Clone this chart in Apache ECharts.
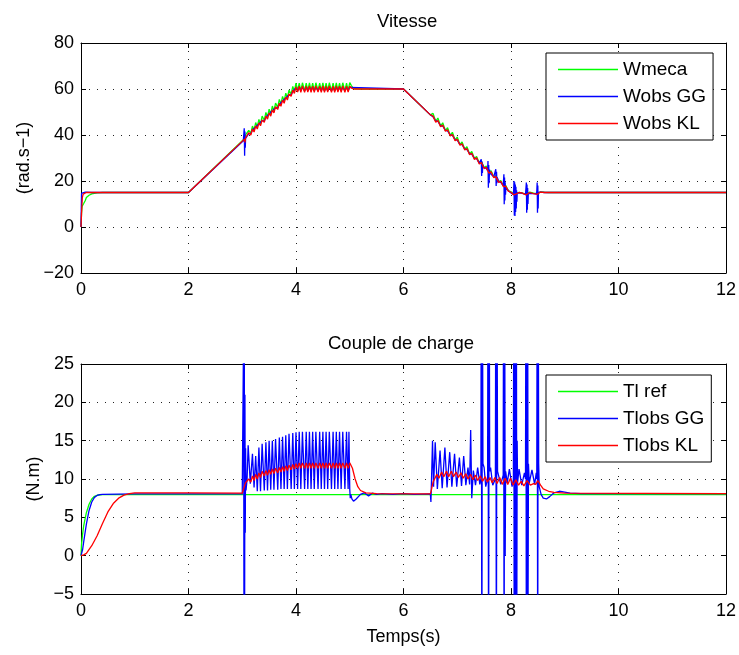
<!DOCTYPE html>
<html><head><meta charset="utf-8">
<script src="https://cdn.jsdelivr.net/npm/echarts@6/dist/echarts.min.js"></script>
<style>html,body{margin:0;padding:0;background:#fff}#c{width:739px;height:655px}</style>
</head><body><div id="c"></div>
<script>
const titles = ['Vitesse', 'Couple de charge'];
const xName = 'Temps(s)';
const yNames = ['(rad.s\u22121)', '(N.m)'];
const topNames = ['Wmeca', 'Wobs GG', 'Wobs KL'];
const botNames = ['Tl ref', 'Tlobs GG', 'Tlobs KL'];
const xRange = [0, 12, 2];
const topYRange = [-20, 80, 20];
const botYRange = [-5, 25, 5];

const wmeca = [[0,0],[0.01,6],[0.02,9],[0.05,10.2],[0.08,11.5],[0.1,12.8],[0.15,13.8],[0.2,14.4],[0.3,14.8],[0.4,15],[2,15],[3.04,38.4],
[3.06,40.0],[3.09,39.3],[3.12,42.0],[3.16,40.8],[3.19,43.9],[3.22,42.1],[3.25,45.4],[3.28,43.5],[3.31,46.8],[3.34,44.8],[3.37,48.2],[3.41,46.4],[3.44,49.8],[3.47,47.8],[3.50,51.2],[3.53,49.1],[3.56,52.6],[3.59,50.5],[3.62,53.9],[3.66,52.0],[3.69,55.5],[3.72,53.4],[3.75,56.8],[3.78,54.7],[3.81,58.2],[3.84,56.1],[3.87,59.5],[3.91,57.7],[3.94,61.1],[3.97,59.0],[4.00,62.5],
[4.03,59.3],[4.06,62.6],[4.09,59.2],[4.12,62.7],[4.16,59.2],[4.19,62.6],[4.22,59.3],[4.25,62.7],[4.28,59.2],[4.31,62.6],[4.34,59.2],[4.37,62.7],[4.41,59.3],[4.44,62.6],[4.47,59.2],[4.50,62.7],[4.53,59.2],[4.56,62.6],[4.59,59.3],[4.62,62.7],[4.66,59.2],[4.69,62.6],[4.72,59.2],[4.75,62.7],[4.78,59.3],[4.81,62.6],[4.84,59.2],[4.87,62.7],[4.91,59.2],[4.94,62.6],[4.97,59.3],[5.00,62.8],[5.03,61.5],[5.06,60.5],[5.1,60.1],[5.2,60],[6,60],
[6.5,48.75],[6.55,49.4],[6.6,45.9],[6.64,47.4],[6.69,43.9],[6.73,45.3],[6.78,41.9],[6.82,43.2],[6.87,39.8],[6.91,41.2],[6.96,37.8],[7.00,39.1],[7.05,35.8],[7.09,37.0],[7.14,33.8],[7.18,34.9],[7.23,31.8],[7.27,32.8],[7.32,29.8],[7.36,30.7],[7.41,27.8],[7.45,28.6],[7.50,25.8],[7.54,26.5],[7.59,23.8],[7.63,24.4],[7.68,21.7],[7.72,22.3],[7.77,19.7],[7.81,20.2],[7.86,17.7],[7.90,18.1],[7.95,15.8],[8.0,15.3],[8.05,14.3],[8.1,14.6],[8.15,15.1],[8.2,14.8],[8.28,14.3],[8.35,15.2],[8.42,14.7],[8.49,14.5],[8.55,15.3],[8.62,15.1],[8.7,15],[12,15]];

const wobsGG = [[0,0],[0.01,14.6],[0.03,15.4],[0.08,15.2],[0.2,15],[2,15],[3.02,37.5],[3.03,38.0],[3.037,42.9],[3.044,31.0],[3.05,41.5],[3.056,34.5],[3.062,38.5],
[3.07,38.3],[3.09,39.2],[3.12,40.6],[3.16,40.6],[3.19,42.2],[3.22,41.8],[3.25,43.5],[3.28,43.1],[3.31,44.9],[3.34,44.6],[3.37,46.2],[3.41,46.1],[3.44,47.8],[3.47,47.5],[3.50,49.2],[3.53,48.8],[3.56,50.5],[3.59,50.2],[3.62,51.9],[3.66,51.8],[3.69,53.4],[3.72,53.1],[3.75,54.8],[3.78,54.5],[3.81,56.1],[3.84,55.8],[3.87,57.5],[3.91,57.4],[3.94,59.0],[3.97,58.8],[4.00,60.5],
[4.03,59.3],[4.06,60.7],[4.09,59.3],[4.12,60.7],[4.16,59.3],[4.19,60.7],[4.22,59.3],[4.25,60.7],[4.28,59.3],[4.31,60.7],[4.34,59.3],[4.37,60.7],[4.41,59.3],[4.44,60.7],[4.47,59.3],[4.50,60.7],[4.53,59.3],[4.56,60.7],[4.59,59.3],[4.62,60.7],[4.66,59.3],[4.69,60.7],[4.72,59.3],[4.75,60.7],[4.78,59.3],[4.81,60.7],[4.84,59.3],[4.87,60.7],[4.91,59.3],[4.94,60.7],[4.97,59.3],[5.0,60.7],[5.03,60.1],[6,60],
[6.5,48.75],[6.55,47.9],[6.6,46.1],[6.64,45.9],[6.69,44.1],[6.73,43.9],[6.78,42.0],[6.82,41.8],[6.87,40.0],[6.91,39.8],[6.96,38.0],[7.00,37.8],[7.05,35.9],[7.09,35.8],[7.14,33.9],[7.18,33.7],[7.23,31.9],[7.27,31.7],[7.32,29.8],[7.36,29.7],[7.41,27.8],
[7.44,27.5],[7.447,29.4],[7.454,22.2],[7.461,28.5],[7.468,23.5],[7.475,27.0],[7.485,26.5],[7.50,25.8],[7.54,25.5],
[7.565,24.5],[7.572,28.7],[7.579,17.1],[7.586,27],[7.593,19],[7.6,25],[7.61,23.4],[7.63,23.4],[7.68,21.8],
[7.71,21.6],[7.717,25.1],[7.724,17.8],[7.731,24],[7.738,19],[7.745,21.5],[7.77,19.8],[7.81,19.4],[7.855,18.0],
[7.862,18.5],[7.868,22.9],[7.874,9.9],[7.88,21.5],[7.886,11.5],[7.892,19.5],[7.898,14],[7.905,17.3],[7.95,15.8],[8.0,14.8],[8.04,14.2],
[8.05,16],[8.056,20],[8.062,5],[8.068,19.5],[8.074,4.8],[8.08,18.5],[8.086,6.5],[8.092,17.5],[8.098,8],[8.104,16],[8.11,11],[8.116,14.8],[8.15,15.0],[8.2,14.7],[8.27,14.2],
[8.28,15],[8.286,19.3],[8.292,6.2],[8.298,18.5],[8.304,7.5],[8.31,17],[8.316,10],[8.322,14.5],[8.35,15.0],[8.42,14.5],[8.475,14.4],
[8.481,16],[8.487,19.3],[8.493,6.2],[8.499,18],[8.505,8],[8.511,15],[8.518,14.8],[8.55,15.2],[8.62,15.0],[8.7,15],[12,15]];

const wobsKL = [[0,0],[0.01,6],[0.025,12.8],[0.04,14.3],[0.06,14.8],[0.1,15],[2,15],[3.04,38.2],[3.05,36.8],
[3.06,38.6],[3.09,38.9],[3.12,41.0],[3.16,40.0],[3.19,42.6],[3.22,41.3],[3.25,43.9],[3.28,42.6],[3.31,45.3],[3.34,44.0],[3.37,46.6],[3.41,45.5],[3.44,48.2],[3.47,46.9],[3.50,49.6],[3.53,48.2],[3.56,50.9],[3.59,49.6],[3.62,52.3],[3.66,51.1],[3.69,53.8],[3.72,52.5],[3.75,55.2],[3.78,53.8],[3.81,56.5],[3.84,55.2],[3.87,57.9],[3.91,56.8],[3.94,59.5],[3.97,58.1],[4.00,60.9],
[4.03,58.7],[4.06,61.2],[4.09,58.6],[4.12,61.3],[4.16,58.6],[4.19,61.2],[4.22,58.7],[4.25,61.3],[4.28,58.6],[4.31,61.2],[4.34,58.6],[4.37,61.3],[4.41,58.7],[4.44,61.2],[4.47,58.6],[4.50,61.3],[4.53,58.6],[4.56,61.2],[4.59,58.7],[4.62,61.3],[4.66,58.6],[4.69,61.2],[4.72,58.6],[4.75,61.3],[4.78,58.7],[4.81,61.2],[4.84,58.6],[4.87,61.3],[4.91,58.6],[4.94,61.2],[4.97,58.7],[5.00,61.2],[5.04,60.3],[5.08,60.0],[6,60],
[6.5,48.75],[6.55,48.2],[6.6,45.6],[6.64,46.3],[6.69,43.6],[6.73,44.3],[6.78,41.6],[6.82,42.3],[6.87,39.6],[6.91,40.2],[6.96,37.5],[7.00,38.2],[7.05,35.5],[7.09,36.2],[7.14,33.5],[7.18,34.1],[7.23,31.4],[7.27,32.1],[7.32,29.4],[7.36,30.1],[7.41,27.4],[7.45,28.0],[7.50,25.4],[7.54,26.0],[7.59,23.4],[7.63,24.0],[7.68,21.4],[7.72,21.9],[7.77,19.4],[7.81,19.9],[7.86,17.5],[7.90,17.8],[7.95,15.6],[8.0,15.1],[8.05,14.0],[8.1,14.4],[8.15,15.0],[8.2,14.8],[8.28,14.0],[8.35,15.0],[8.42,14.5],[8.49,14.2],[8.55,15.2],[8.62,15.0],[8.7,15],[12,15]];

const tlRef = [[0,0],[0.01,1.5],[0.03,2.8],[0.05,3.9],[0.07,4.6],[0.1,5.6],[0.15,6.7],[0.2,7.4],[0.25,7.75],[0.3,7.88],[0.4,7.95],[12,7.95]];

const tlobsGG = [[0,0],[0.03,0.8],[0.05,1.8],[0.08,3.2],[0.1,4.1],[0.15,5.9],[0.2,7.0],[0.25,7.6],[0.3,7.85],[0.35,7.95],[0.4,8.0],[1,8.05],[3.0,8.05],
[3.02,8.1],[3.026,30],[3.032,-10],[3.038,30],[3.044,-10],[3.05,21],[3.056,3],[3.062,14],[3.07,8.5],[3.09,10],
[3.11,14.4],[3.15,9.4],[3.19,13.3],[3.22,8.9],[3.25,13.0],[3.28,8.4],[3.31,14.1],[3.34,8.4],[3.37,14.6],[3.41,8.5],[3.44,14.8],[3.47,8.5],[3.50,15.0],[3.53,8.6],[3.56,15.0],[3.59,8.6],[3.62,15.2],[3.66,8.6],[3.69,15.4],[3.72,8.7],[3.75,15.5],[3.78,8.7],[3.81,15.7],[3.84,8.7],[3.87,15.9],[3.91,8.7],[3.94,16.0],[3.97,8.7],[4.00,16.1],
[4.03,8.7],[4.06,16.15],[4.09,8.7],[4.12,16.15],[4.16,8.7],[4.19,16.15],[4.22,8.7],[4.25,16.15],[4.28,8.7],[4.31,16.15],[4.34,8.7],[4.37,16.15],[4.41,8.7],[4.44,16.15],[4.47,8.7],[4.50,16.15],[4.53,8.7],[4.56,16.15],[4.59,8.7],[4.62,16.15],[4.66,8.7],[4.69,16.15],[4.72,8.7],[4.75,16.15],[4.78,8.7],[4.81,16.15],[4.84,8.7],[4.87,16.15],[4.91,8.7],[4.94,16.15],[4.97,8.7],[4.985,16.15],
[5.0,8.7],[5.01,7.5],[5.02,8.0],[5.04,7.4],[5.07,7.1],[5.12,7.4],[5.2,8.0],[5.27,8.2],[5.35,7.8],[5.42,8.15],[5.5,8.0],[5.6,8.1],[5.8,8.0],[6.0,8.1],[6.2,8.0],[6.5,8.05],
[6.51,7.0],[6.52,9.5],[6.54,15.0],[6.56,9.0],[6.59,14.8],[6.63,8.7],[6.68,13.7],[6.72,8.8],[6.77,14.1],[6.81,8.9],[6.86,13.5],[6.90,9.0],[6.95,13.3],[6.99,9.0],[7.04,12.8],[7.08,9.1],[7.12,13.0],[7.16,9.2],[7.20,11.5],[7.23,9.3],[7.25,16.4],[7.27,7.5],[7.30,11.1],[7.34,9.2],[7.38,11.5],[7.42,9.3],
[7.44,10],[7.447,40],[7.458,-20],[7.468,40],[7.478,12],[7.5,11.5],[7.53,9.0],
[7.565,10],[7.572,40],[7.583,-20],[7.594,40],[7.604,11],[7.62,11.5],[7.66,9.2],
[7.71,10],[7.717,40],[7.728,-20],[7.739,40],[7.75,11],[7.77,11.2],[7.81,9.3],
[7.855,10.5],[7.862,40],[7.872,-20],[7.882,40],[7.892,0],[7.9,11],[7.93,9.5],[7.97,11.3],[8.02,9.0],
[8.045,10],[8.052,40],[8.06,-20],[8.068,40],[8.076,-20],[8.084,40],[8.092,-20],[8.1,40],[8.108,-10],[8.115,15],[8.122,9.5],[8.15,11.3],[8.2,9.2],[8.25,10.8],
[8.27,10],[8.278,40],[8.286,-20],[8.294,40],[8.302,-20],[8.31,40],[8.318,-5],[8.325,12],[8.34,9.5],[8.39,11.2],[8.44,9.3],[8.47,10.8],
[8.48,10],[8.487,40],[8.497,-20],[8.507,40],[8.515,12],[8.525,9.0],[8.56,8.0],[8.6,7.5],[8.66,7.4],[8.72,7.7],[8.8,8.2],[8.9,8.4],[9.0,8.3],[9.1,8.15],[9.3,8.1],[12,8.1]];

const tlobsKL = [[0,0],[0.05,0.1],[0.1,0.3],[0.2,1.3],[0.3,2.6],[0.4,4.2],[0.5,5.7],[0.6,6.8],[0.7,7.5],[0.8,7.9],[0.9,8.1],[1.0,8.2],[2.0,8.2],[3.0,8.15],[3.03,8.3],
[3.06,9.5],[3.09,9.3],[3.12,10.0],[3.16,9.6],[3.19,10.4],[3.22,9.8],[3.25,10.6],[3.28,10.0],[3.31,10.8],[3.34,10.2],[3.37,11.0],[3.41,10.4],[3.44,11.1],[3.47,10.5],[3.50,11.2],[3.53,10.6],[3.56,11.3],[3.59,10.7],[3.62,11.4],[3.66,10.8],[3.69,11.5],[3.72,10.9],[3.75,11.6],[3.78,11.0],[3.81,11.7],[3.84,11.1],[3.87,11.8],[3.91,11.2],[3.94,11.9],[3.97,11.3],[4.00,12.0],
[4.03,11.4],[4.06,12.1],[4.09,11.4],[4.12,12.1],[4.16,11.4],[4.19,12.1],[4.22,11.4],[4.25,12.1],[4.28,11.4],[4.31,12.1],[4.34,11.4],[4.37,12.1],[4.41,11.4],[4.44,12.1],[4.47,11.4],[4.50,12.1],[4.53,11.4],[4.56,12.1],[4.59,11.4],[4.62,12.1],[4.66,11.4],[4.69,12.1],[4.72,11.4],[4.75,12.1],[4.78,11.4],[4.81,12.1],[4.84,11.4],[4.87,12.1],[4.91,11.4],[4.94,12.1],[4.97,11.4],[5.0,12.1],
[5.05,11.4],[5.1,10.0],[5.15,9.0],[5.2,8.5],[5.3,8.2],[5.5,8.1],[6.5,8.05],
[6.52,8.6],[6.55,9.6],[6.58,9.8],[6.62,10.6],[6.66,10.1],[6.71,10.9],[6.75,10.3],[6.8,11.0],[6.84,10.3],[6.89,11.0],[6.93,10.3],[6.98,10.9],[7.02,10.2],[7.07,10.8],[7.11,10.1],[7.16,10.7],[7.2,10.0],[7.25,10.6],[7.29,9.9],[7.34,10.5],[7.38,9.8],[7.43,10.4],[7.47,9.7],[7.52,10.3],[7.56,9.6],[7.61,10.2],[7.65,9.5],[7.7,10.2],[7.74,9.4],[7.79,10.2],[7.84,9.3],[7.89,10.1],[7.94,9.3],[7.99,10.1],[8.04,9.2],[8.09,9.9],[8.14,9.2],[8.19,9.7],[8.24,9.1],[8.3,9.8],[8.36,9.2],[8.42,9.4],[8.46,9.3],[8.5,9.8],[8.55,9.2],[8.6,8.7],[8.7,8.4],[8.8,8.25],[9,8.15],[12,8.1]];

const colors = ['#00ff00', '#0000ff', '#ff0000'];
const FONT = 'Liberation Sans, Arial, Helvetica, sans-serif';
const fmt = v => String(v).replace('-', '\u2212');

const grids = [
  {left: 81, width: 645, top: 43, height: 230},
  {left: 81, width: 645, top: 364, height: 230}
];

function xAxes(gi, withName) {
  const common = {gridIndex: gi, type: 'value', min: xRange[0], max: xRange[1], interval: xRange[2],
    axisLine: {show: true, onZero: false, lineStyle: {color: '#000', width: 1}},
    axisTick: {show: true, inside: true, length: 5, lineStyle: {color: '#000'}}};
  return [
    Object.assign({}, common, {position: 'bottom',
      axisLabel: {color: '#000', fontSize: 18, fontFamily: FONT, margin: 8, formatter: fmt},
      splitLine: {show: true, lineStyle: {color: '#222', width: 1, type: [1, 7]}},
      name: withName ? xName : '', nameLocation: 'middle', nameGap: 34,
      nameTextStyle: {color: '#000', fontSize: 18, fontFamily: FONT}}),
    Object.assign({}, common, {position: 'top', axisLabel: {show: false}, splitLine: {show: false}})
  ];
}
function yAxes(gi, r, name, gap) {
  const common = {gridIndex: gi, type: 'value', min: r[0], max: r[1], interval: r[2],
    axisLine: {show: true, onZero: false, lineStyle: {color: '#000', width: 1}},
    axisTick: {show: true, inside: true, length: 5, lineStyle: {color: '#000'}}};
  return [
    Object.assign({}, common, {position: 'left',
      axisLabel: {color: '#000', fontSize: 18, fontFamily: FONT, margin: 7, formatter: fmt},
      splitLine: {show: true, lineStyle: {color: '#222', width: 1, type: [1, 7]}},
      name: name, nameLocation: 'middle', nameGap: gap, nameRotate: 90,
      nameTextStyle: {color: '#000', fontSize: 18, fontFamily: FONT}}),
    Object.assign({}, common, {position: 'right', axisLabel: {show: false}, splitLine: {show: false}})
  ];
}

function mk(name, data, ci, ax) {
  return {type: 'line', name: name, data: data, xAxisIndex: ax, yAxisIndex: ax,
    symbol: 'none', showSymbol: false, clip: true, animation: false,
    lineStyle: {width: 1.3, color: colors[ci]}, itemStyle: {color: colors[ci]}};
}

function legendFor(names, top) {
  return {data: names, orient: 'vertical', left: 546, top: top, icon: 'rect',
    itemWidth: 60, itemHeight: 1.6, itemGap: 8, padding: [7, 7, 7, 12],
    borderColor: '#000', borderWidth: 1, backgroundColor: '#fff', selectedMode: false,
    textStyle: {color: '#000', fontSize: 19, fontFamily: FONT}};
}

const chart = echarts.init(document.getElementById('c'), null, {renderer: 'canvas'});
chart.setOption({
  animation: false,
  backgroundColor: '#fff',
  title: [
    {text: titles[0], left: 372, top: 7, textStyle: {color: '#000', fontSize: 18.5, fontWeight: 'normal', fontFamily: FONT}},
    {text: titles[1], left: 323, top: 329, textStyle: {color: '#000', fontSize: 18.5, fontWeight: 'normal', fontFamily: FONT}}
  ],
  grid: grids,
  xAxis: xAxes(0, false).concat(xAxes(1, true)),
  yAxis: yAxes(0, topYRange, yNames[0], 48).concat(yAxes(1, botYRange, yNames[1], 38)),
  legend: [legendFor(topNames, 53), legendFor(botNames, 375)],
  series: [
    mk(topNames[0], wmeca, 0, 0),
    mk(topNames[1], wobsGG, 1, 0),
    mk(topNames[2], wobsKL, 2, 0),
    mk(botNames[0], tlRef, 0, 2),
    mk(botNames[1], tlobsGG, 1, 2),
    mk(botNames[2], tlobsKL, 2, 2)
  ]
});
</script></body></html>
